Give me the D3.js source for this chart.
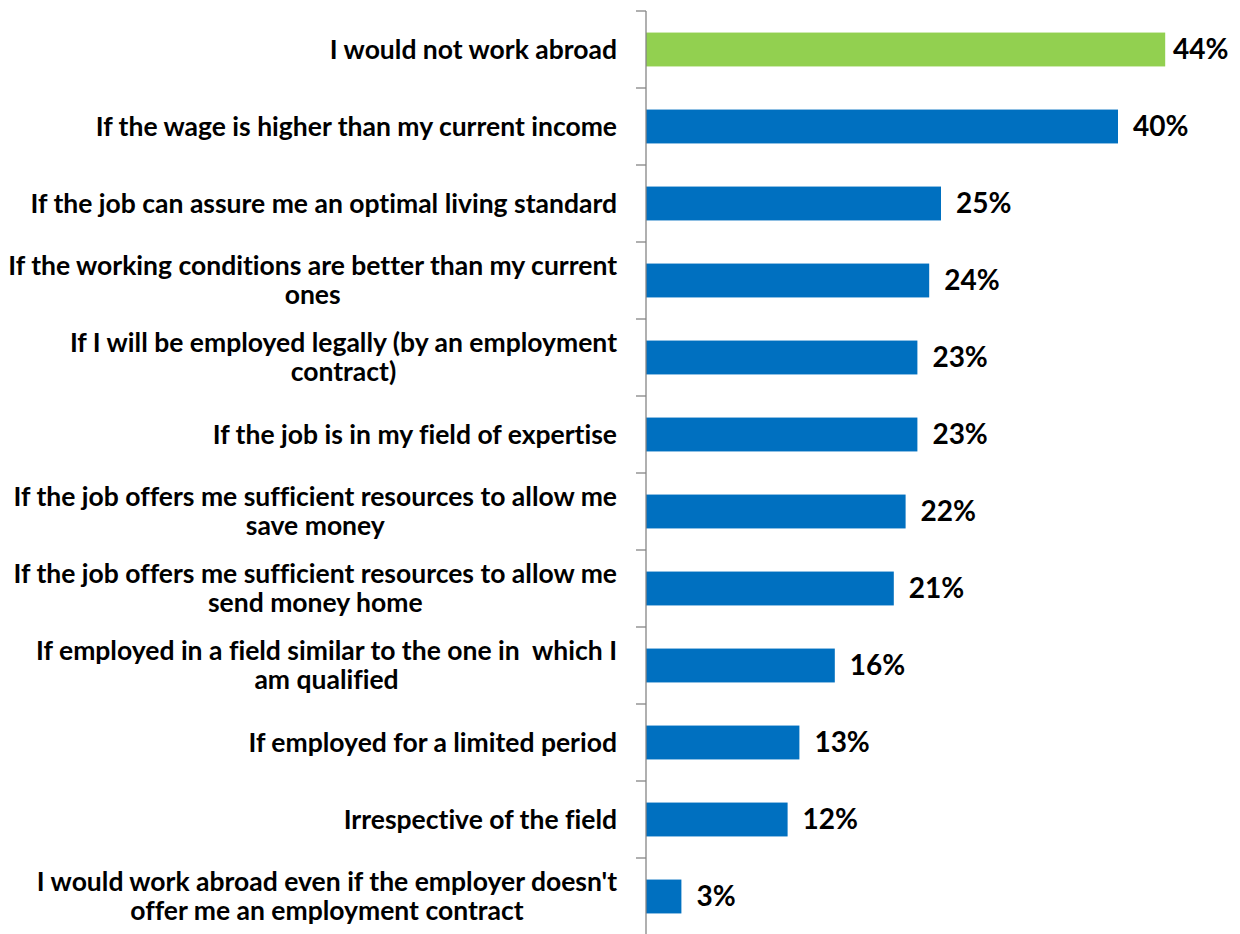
<!DOCTYPE html>
<html>
<head>
<meta charset="utf-8">
<script src="https://cdn.jsdelivr.net/npm/d3@7"></script>
<style>
  html, body { margin: 0; padding: 0; background: #ffffff; }
  svg { display: block; }
  text { font-family: Lato, "Open Sans", sans-serif; font-weight: bold; fill: #000000; white-space: pre; font-variant-ligatures: none; }
</style>
</head>
<body>
<svg id="chart" width="1240" height="934"></svg>
<script>
// Conditions under which respondents would accept a job abroad (share of answers, %)
const categories = [
  "I would not work abroad",
  "If the wage is higher than my current income",
  "If the job can assure me an optimal living standard",
  "If the working conditions are better than my current\nones",
  "If I will be employed legally (by an employment\ncontract)",
  "If the job is in my field of expertise",
  "If the job offers me sufficient resources to allow me\nsave money",
  "If the job offers me sufficient resources to allow me\nsend money home",
  "If employed in a field similar to the one in  which I\nam qualified",
  "If employed for a limited period",
  "Irrespective of the field",
  "I would work abroad even if the employer doesn't\noffer me an employment contract"
];
const values = [44, 40, 25, 24, 23, 23, 22, 21, 16, 13, 12, 3];
const highlighted = ["I would not work abroad"];

const svg = d3.select("#chart");
const axisX = 646, plotTop = 11, plotBottom = 935;
const labelRight = 617;

const x = d3.scaleLinear().domain([0, 50]).range([axisX, axisX + 590]);
const y = d3.scaleBand().domain(categories).range([plotTop, plotBottom])
  .paddingInner(0.56).paddingOuter(0.28);

// bars
svg.append("g").selectAll("rect")
  .data(categories)
  .join("rect")
  .attr("x", x(0))
  .attr("y", d => y(d))
  .attr("width", (d, i) => x(values[i]) - x(0))
  .attr("height", y.bandwidth())
  .attr("fill", d => highlighted.includes(d) ? "#92d050" : "#0070c0");

// category axis: vertical line with ticks between categories
const axisG = svg.append("g").attr("stroke", "#868686").attr("stroke-width", 1.3);
axisG.append("line")
  .attr("x1", axisX).attr("x2", axisX)
  .attr("y1", plotTop).attr("y2", plotBottom);
const gap = (y.step() - y.bandwidth()) / 2;
const boundaries = categories.map(c => y(c) - gap).concat([plotBottom]);
axisG.selectAll("line.tick")
  .data(boundaries)
  .join("line")
  .attr("class", "tick")
  .attr("x1", axisX - 10).attr("x2", axisX)
  .attr("y1", d => d).attr("y2", d => d);

// category labels: lines centred within a right-aligned block
const labelSize = 26.5, lineGap = 29;
const labels = svg.append("g").style("font-size", labelSize + "px");
categories.forEach(c => {
  const lines = c.split("\n");
  const cy = y(c) + y.bandwidth() / 2;
  const g = labels.append("g");
  const texts = lines.map((ln, j) => g.append("text")
    .attr("y", cy + (j - (lines.length - 1) / 2) * lineGap)
    .attr("dy", "0.35em")
    .text(ln));
  const widths = texts.map(t => t.node().getComputedTextLength());
  const blockW = Math.max(...widths);
  texts.forEach(t => t.attr("x", labelRight - blockW / 2).attr("text-anchor", "middle"));
});

// value labels at the end of each bar
svg.append("g").style("font-size", "28px")
  .selectAll("text")
  .data(categories)
  .join("text")
  .attr("x", (d, i) => Math.min(x(values[i]) + 15, 1173))
  .attr("y", d => y(d) + y.bandwidth() / 2)
  .attr("dy", "0.35em")
  .text((d, i) => values[i] + "%");
</script>
</body>
</html>
